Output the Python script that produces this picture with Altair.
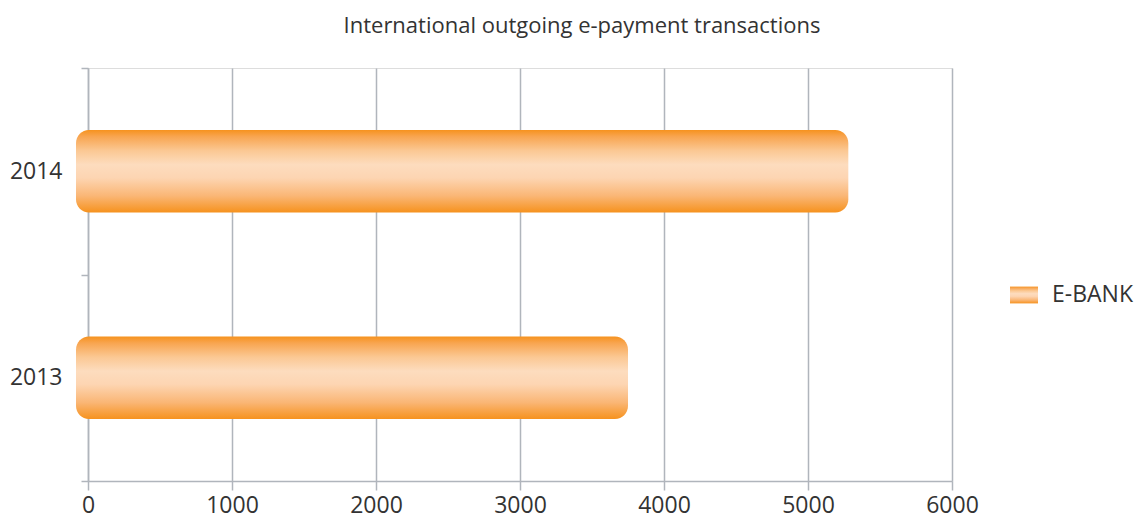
import altair as alt
import pandas as pd

years = ["2014", "2013"]
values = [5280, 3750]
series = ["E-BANK", "E-BANK"]
x_ticks = [0, 1000, 2000, 3000, 4000, 5000, 6000]

df = pd.DataFrame({"year": years, "value": values, "series": series})

FONT = "Open Sans"
GRID = "#B0B5BC"

bar_stops = [
    (0.0, "#F6921E"),
    (0.08, "#F8A550"),
    (0.25, "#FBC893"),
    (0.42, "#FDDCBE"),
    (0.58, "#FDD5B2"),
    (0.8, "#FAB675"),
    (1.0, "#F6921E"),
]
bar_fill = alt.Gradient(
    gradient="linear",
    stops=[alt.GradientStop(color=c, offset=o) for o, c in bar_stops],
    x1=0, x2=0, y1=0, y2=1,
)
legend_fill_expr = (
    "{gradient:'linear',x1:0,y1:0,x2:1,y2:0,"
    "stops:[{offset:0,color:'#F6921E'},{offset:0.55,color:'#FDD6B4'},{offset:1,color:'#FBC18A'}]}"
)

chart = (
    alt.Chart(df)
    .mark_bar(
        fill=bar_fill,
        cornerRadius=13,
        height=alt.RelativeBandSize(0.4),
        x2Offset=-12,
    )
    .encode(
        x=alt.X(
            "value:Q",
            scale=alt.Scale(domain=[0, 6000], nice=False, zero=True),
            axis=alt.Axis(
                values=x_ticks,
                format="d",
                title=None,
                grid=True,
                gridColor=GRID,
                gridWidth=1.5,
                domainColor=GRID,
                domainWidth=1.5,
                tickColor=GRID,
                tickWidth=1.5,
                tickSize=9,
                labelPadding=4,
                labelFont=FONT,
                labelFontSize=23,
                labelColor="#333333",
                labelFlush=False,
            ),
        ),
        x2=alt.datum(0),
        y=alt.Y(
            "year:N",
            sort=years,
            scale=alt.Scale(paddingInner=0, paddingOuter=0),
            axis=alt.Axis(
                title=None,
                tickBand="extent",
                domainColor=GRID,
                domainWidth=1.5,
                tickColor=GRID,
                tickWidth=1.5,
                tickSize=7,
                labelPadding=19,
                labelFont=FONT,
                labelFontSize=23,
                labelColor="#333333",
            ),
        ),
        opacity=alt.Opacity(
            "series:N",
            scale=alt.Scale(domain=["E-BANK"], range=[1]),
            legend=alt.Legend(
                title=None,
                orient="none",
                legendX=922,
                legendY=213,
                padding=0,
                symbolType="M-1,-0.6H1V0.6H-1Z",
                symbolSize=784,
                symbolFillColor=alt.ExprRef(legend_fill_expr),
                symbolStrokeColor="transparent",
                symbolStrokeWidth=0,
                labelOffset=14,
                labelFont=FONT,
                labelFontSize=23,
                labelColor="#333333",
            ),
        ),
    )
    .properties(
        width=864,
        height=413,
        autosize=alt.AutoSizeParams(type="none"),
        padding={"left": 80, "top": 60, "right": 186, "bottom": 40},
        title=alt.TitleParams(
            "International outgoing e-payment transactions",
            font=FONT,
            fontSize=22,
            fontWeight="normal",
            color="#333333",
            anchor="middle",
            offset=19,
            dx=62,
        ),
    )
    .configure_view(stroke=None)
    .configure(background="white")
)

chart.save("out.html", embed_options={"renderer": "svg", "actions": False})
